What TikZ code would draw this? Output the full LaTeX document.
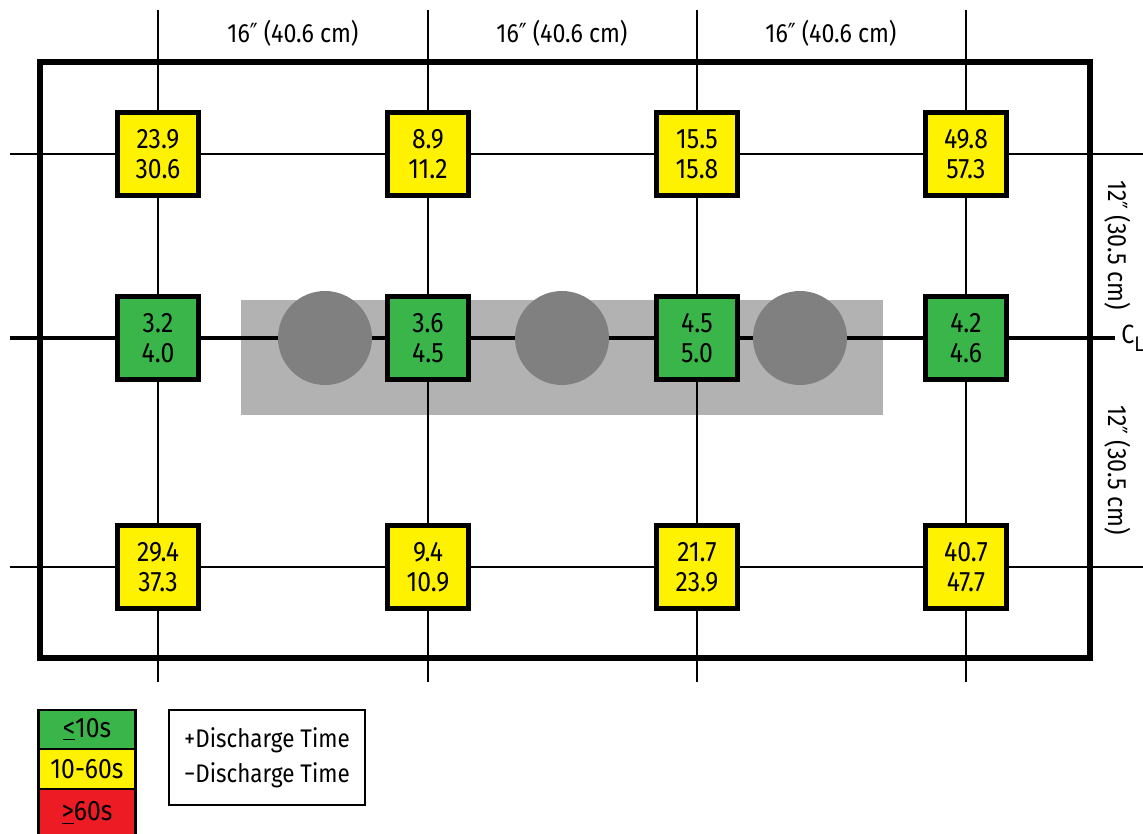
\documentclass[tikz,border=0pt]{standalone}
\usepackage{fontspec}
\setmainfont{Fira Sans}[FakeStretch=0.88]
\newfontfamily\primefont{DejaVu Sans}[FakeStretch=0.8]
\newcommand{\inch}{{\primefont ″}}
\definecolor{lowgreen}{HTML}{3AB54A}
\definecolor{midyellow}{HTML}{FFF200}
\definecolor{highred}{HTML}{ED1C24}
\tikzset{
  cell/.style={draw,line width=2.3pt,minimum width=1.62cm,minimum height=1.66cm,inner sep=0pt,align=center,font=\fontsize{16}{17}\selectfont},
  keybox/.style={draw,line width=1.2pt,minimum width=1.94cm,minimum height=0.79cm,inner sep=0pt,font=\fontsize{16}{17}\selectfont}
}
\begin{document}
\begin{tikzpicture}[x=0.02cm,y=-0.02cm,every node/.style={font=\fontsize{15}{17}\selectfont}]
  \useasboundingbox (0,0) rectangle (1143,834);
  % tray and nozzles
  \fill[black!30] (241,300) rectangle (883,415);
  \foreach \x in {158,428,697,966} \draw[line width=1.1pt] (\x,10) -- (\x,682);
  \foreach \y in {154,567} \draw[line width=1.1pt] (10,\y) -- (1143,\y);
  \draw[line width=2.3pt] (10,338) -- (1115,338);
  \foreach \x/\n in {325/1,562/2,800/3} \fill[black!50] (\x,338) circle (47) coordinate (c\n);
  \draw[line width=3.4pt] (40,62) rectangle (1090,658);
  % measurement cells
  \foreach \x/\y/\col/\txt/\n in {158/154/midyellow/23.9\\30.6/a1,428/154/midyellow/8.9\\11.2/a2,697/154/midyellow/15.5\\15.8/a3,966/154/midyellow/49.8\\57.3/a4,
      158/338/lowgreen/3.2\\4.0/b1,428/338/lowgreen/3.6\\4.5/b2,697/338/lowgreen/4.5\\5.0/b3,966/338/lowgreen/4.2\\4.6/b4,
      158/567/midyellow/29.4\\37.3/c1,428/567/midyellow/9.4\\10.9/c2,697/567/midyellow/21.7\\23.9/c3,966/567/midyellow/40.7\\47.7/c4} {
    \node[cell,fill=\col] (\n) at (\x,\y) {\txt};
  }
  % dimensions
  \foreach \x/\n in {293/1,562/2,831/3} \node (top\n) at (\x,33) {16\inch\ (40.6 cm)};
  \node[rotate=-90] (side1) at (1118,245) {12\inch\ (30.5 cm)};
  \node[rotate=-90] (side2) at (1118,470) {12\inch\ (30.5 cm)};
  \node[inner sep=0pt,anchor=west] (cl) at (1121,338) {C\raisebox{-0.6ex}{\fontsize{12}{12}\selectfont L}};
  % legend
  \node[keybox,fill=lowgreen] (k1) at (87,729.5) {\underline{<}10s};
  \node[keybox,fill=midyellow] (k2) at (87,769) {10-60s};
  \node[keybox,fill=highred,minimum height=0.96cm] (k3) at (87,813) {\underline{>}60s};
  \node[draw,line width=1.2pt,minimum width=3.92cm,minimum height=1.9cm,align=left,font=\fontsize{14.5}{20}\selectfont] (key) at (267,757.5) {+Discharge Time\\−Discharge Time};
\end{tikzpicture}
\end{document}
